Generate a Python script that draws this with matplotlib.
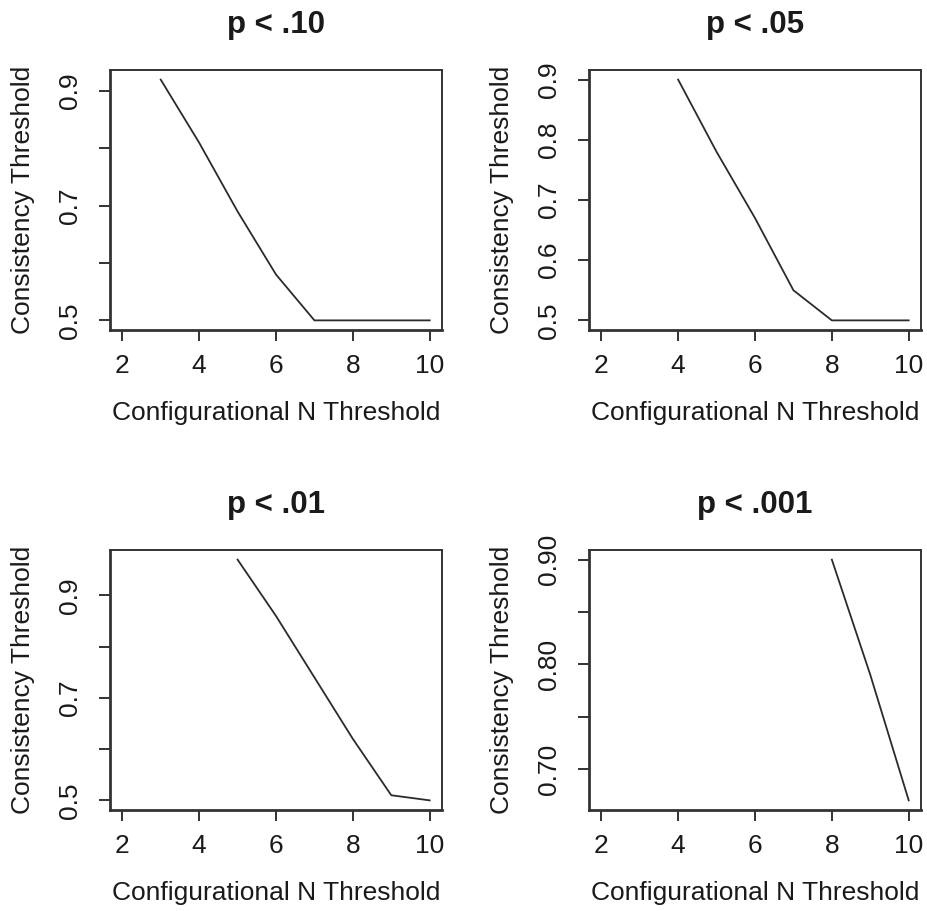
import matplotlib
matplotlib.use("Agg")
import matplotlib.pyplot as plt
import numpy as np

plt.rcParams["font.family"] = ["Liberation Sans", "DejaVu Sans"]

# consistency threshold reached at each configurational N, per significance level
titles = ["p < .10", "p < .05", "p < .01", "p < .001"]

n_p10 = [3, 4, 5, 6, 7, 8, 9, 10]
cons_p10 = [0.92, 0.81, 0.69, 0.58, 0.50, 0.50, 0.50, 0.50]

n_p05 = [4, 5, 6, 7, 8, 9, 10]
cons_p05 = [0.90, 0.78, 0.67, 0.55, 0.50, 0.50, 0.50]

n_p01 = [5, 6, 7, 8, 9, 10]
cons_p01 = [0.97, 0.86, 0.74, 0.62, 0.51, 0.50]

n_p001 = [8, 9, 10]
cons_p001 = [0.90, 0.79, 0.67]

x_ticks = [2, 4, 6, 8, 10]
y_ticks = [
    [0.5, 0.6, 0.7, 0.8, 0.9],
    [0.5, 0.6, 0.7, 0.8, 0.9],
    [0.5, 0.6, 0.7, 0.8, 0.9],
    [0.70, 0.75, 0.80, 0.85, 0.90],
]
y_labels = [
    ["0.5", "", "0.7", "", "0.9"],
    ["0.5", "0.6", "0.7", "0.8", "0.9"],
    ["0.5", "", "0.7", "", "0.9"],
    ["0.70", "", "0.80", "", "0.90"],
]

series = [(n_p10, cons_p10), (n_p05, cons_p05), (n_p01, cons_p01), (n_p001, cons_p001)]

W, H = 927, 911
fig = plt.figure(figsize=(W / 100, H / 100), dpi=100)

# panel boxes in pixels: (left, top, right, bottom)
boxes = [(110, 70, 442, 330), (589, 70, 921, 330),
         (110, 550, 442, 810), (589, 550, 921, 810)]

FS = 19
INK = "#1a1a1a"


def r_limits(lo, hi):
    # base-R style 4% padding on each side
    pad = (hi - lo) * 0.04
    return lo - pad, hi + pad


for i, (x, y) in enumerate(series):
    l, t, r, b = boxes[i]
    ax = fig.add_axes([l / W, (H - b) / H, (r - l) / W, (b - t) / H])
    ax.plot(x, y, color="#2b2b2b", lw=1.3)

    ax.set_xlim(*r_limits(min(x_ticks), max(x_ticks)))
    ax.set_ylim(*r_limits(min(y), max(y)))

    for side, sp in ax.spines.items():
        sp.set_color("#333333")
        sp.set_linewidth(2.0 if side in ("left", "bottom") else 1.4)

    ax.set_xticks(x_ticks)
    ax.set_xticklabels([str(v) for v in x_ticks])
    ax.set_yticks(y_ticks[i])
    ax.set_yticklabels(y_labels[i])

    ax.tick_params(axis="both", direction="out", length=8, width=1.4,
                   color="#333333", labelsize=FS, labelcolor=INK)
    ax.tick_params(axis="x", pad=9)
    ax.tick_params(axis="y", pad=21)
    for lab in ax.get_yticklabels():
        lab.set_rotation(90)
        lab.set_ha("center")
        lab.set_va("center")

    hpx = b - t
    wpx = r - l
    ax.set_xlabel("Configurational N Threshold", fontsize=FS, color=INK, va="center")
    ax.xaxis.set_label_coords(0.5, -(413 - 330) / hpx)
    ax.set_ylabel("Consistency Threshold", fontsize=FS, color=INK, va="center")
    ax.yaxis.set_label_coords(-87 / wpx, 0.5)

    ax.set_title(titles[i], fontsize=22.5, fontweight="bold", color=INK,
                 y=1 + 45 / hpx, va="center", pad=0)

fig.savefig("out.png", dpi=100, facecolor="white")
